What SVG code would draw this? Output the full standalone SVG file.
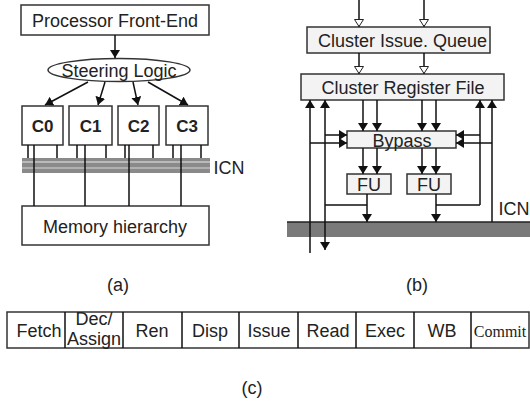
<svg xmlns="http://www.w3.org/2000/svg" width="530" height="405" viewBox="0 0 530 405">
<style>
.t{font-family:"Liberation Sans",Arial,sans-serif;font-size:18px;fill:#222;text-anchor:middle}
.b{font-weight:bold;font-size:17px}
.box{fill:#fff;stroke:#333;stroke-width:1.5}
.gbox{fill:#f3f3f3;stroke:#333;stroke-width:1.5}
.ln{stroke:#111;stroke-width:1.5;fill:none}
</style>
<defs>
<marker id="ah" markerWidth="8" markerHeight="10" refX="8" refY="5" orient="auto" markerUnits="userSpaceOnUse">
<path d="M0,0 L8,5 L0,10 Z" fill="#111"/>
</marker>
<marker id="oh" markerWidth="8" markerHeight="10" refX="8" refY="5" orient="auto" markerUnits="userSpaceOnUse">
<path d="M0.5,0.5 L7.5,5 L0.5,9.5 Z" fill="#fff" stroke="#222" stroke-width="1"/>
</marker>
</defs>

<!-- (a) -->
<g id="front-end"><rect class="box" x="21" y="5" width="188" height="30"/><text class="t" x="115" y="27">Processor Front-End</text></g>
<g id="steering"><ellipse cx="119" cy="70" rx="71" ry="11.5" class="box"/><text class="t" x="119" y="77" font-size="19">Steering Logic</text></g>
<g id="c0"><rect class="box" x="22" y="106" width="41" height="39"/><text class="t b" x="42.5" y="132">C0</text></g>
<g id="c1"><rect class="box" x="69" y="106" width="43" height="39"/><text class="t b" x="90.5" y="132">C1</text></g>
<g id="c2"><rect class="box" x="118" y="106" width="41" height="39"/><text class="t b" x="138.5" y="132">C2</text></g>
<g id="c3"><rect class="box" x="166" y="106" width="42" height="39"/><text class="t b" x="187" y="132">C3</text></g>
<g id="icn-a">
<rect x="22" y="158" width="188" height="15" fill="#8a8a8a"/>
<line x1="22" y1="162" x2="210" y2="162" stroke="#c8c8c8" stroke-width="1.5"/>
<line x1="22" y1="168" x2="210" y2="168" stroke="#bdbdbd" stroke-width="1.5"/>
<text class="t" x="229" y="174">ICN</text>
</g>
<g id="memory"><rect class="box" x="22" y="206" width="187" height="39"/><text class="t" x="115" y="233">Memory hierarchy</text></g>

<!-- (b) -->
<g id="issue-queue"><rect class="gbox" x="307" y="27" width="183" height="26"/><text class="t" x="318" y="47" style="text-anchor:start">Cluster Issue. Queue</text></g>
<g id="reg-file"><rect class="gbox" x="301" y="74" width="203" height="26"/><text class="t" x="403" y="94">Cluster Register File</text></g>
<g id="bypass"><rect class="gbox" x="347" y="131" width="109" height="17"/><text class="t" x="402" y="147">Bypass</text></g>
<g id="fu1"><rect class="gbox" x="347" y="174" width="44" height="20"/><text class="t" x="369" y="191">FU</text></g>
<g id="fu2"><rect class="gbox" x="407" y="174" width="44" height="20"/><text class="t" x="429" y="191">FU</text></g>
<g id="icn-b">
<rect x="287" y="222" width="243" height="15" fill="#7a7a7a"/>
<line x1="287" y1="222" x2="530" y2="222" stroke="#222" stroke-width="1.5"/>
<text class="t" x="514" y="215">ICN</text>
</g>

<g id="connectors">
<!-- (a) -->
<line class="ln" x1="115" y1="35" x2="115" y2="58" marker-end="url(#ah)"/>
<line class="ln" x1="88" y1="82" x2="45" y2="105" marker-end="url(#ah)"/>
<line class="ln" x1="105" y1="82" x2="98" y2="105" marker-end="url(#ah)"/>
<line class="ln" x1="133" y1="82" x2="138" y2="105" marker-end="url(#ah)"/>
<line class="ln" x1="148" y1="82" x2="188" y2="105" marker-end="url(#ah)"/>
<path class="ln" d="M28,145V158M57,145V158M77,145V158M106,145V158M125,145V158M153,145V158M173,145V158M201,145V158"/>
<path class="ln" d="M34,145V206M85,145V206M129,145V206M181,145V206"/>
<!-- (b) -->
<line class="ln" x1="359" y1="0" x2="359" y2="27" marker-end="url(#oh)"/>
<line class="ln" x1="424" y1="0" x2="424" y2="27" marker-end="url(#oh)"/>
<line class="ln" x1="359" y1="53" x2="359" y2="74" marker-end="url(#oh)"/>
<line class="ln" x1="424" y1="53" x2="424" y2="74" marker-end="url(#oh)"/>
<line class="ln" x1="363" y1="100" x2="363" y2="131" marker-end="url(#ah)"/>
<line class="ln" x1="377" y1="100" x2="377" y2="131" marker-end="url(#ah)"/>
<line class="ln" x1="422" y1="100" x2="422" y2="131" marker-end="url(#ah)"/>
<line class="ln" x1="436" y1="100" x2="436" y2="131" marker-end="url(#ah)"/>
<line class="ln" x1="363" y1="148" x2="363" y2="174" marker-end="url(#ah)"/>
<line class="ln" x1="377" y1="148" x2="377" y2="174" marker-end="url(#ah)"/>
<line class="ln" x1="422" y1="148" x2="422" y2="174" marker-end="url(#ah)"/>
<line class="ln" x1="436" y1="148" x2="436" y2="174" marker-end="url(#ah)"/>
<line class="ln" x1="310" y1="253" x2="310" y2="100" marker-end="url(#ah)"/>
<line class="ln" x1="325" y1="205" x2="325" y2="100" marker-end="url(#ah)"/>
<line class="ln" x1="480" y1="205" x2="480" y2="100" marker-end="url(#ah)"/>
<line class="ln" x1="492" y1="222" x2="492" y2="100" marker-end="url(#ah)"/>
<line class="ln" x1="325" y1="135" x2="347" y2="135" marker-end="url(#ah)"/>
<line class="ln" x1="310" y1="143" x2="347" y2="143" marker-end="url(#ah)"/>
<line class="ln" x1="480" y1="135" x2="456" y2="135" marker-end="url(#ah)"/>
<line class="ln" x1="492" y1="143" x2="456" y2="143" marker-end="url(#ah)"/>
<line class="ln" x1="367" y1="194" x2="367" y2="222" marker-end="url(#ah)"/>
<line class="ln" x1="436" y1="194" x2="436" y2="222" marker-end="url(#ah)"/>
<path class="ln" d="M367,205H325M436,205H480"/>
<line class="ln" x1="325" y1="205" x2="325" y2="250" marker-end="url(#ah)"/>
</g>

<!-- (c) -->
<g id="pipeline">
<rect x="7" y="312" width="522" height="36" fill="#fff" stroke="#333" stroke-width="1.5"/>
<path class="ln" stroke="#333" d="M65,312V348M123,312V348M182,312V348M239,312V348M298,312V348M356,312V348M414,312V348M471,312V348"/>
<text class="t" x="39" y="337">Fetch</text>
<text class="t" x="94" y="325" font-size="14">Dec/</text>
<text class="t" x="94" y="345" font-size="14">Assign</text>
<text class="t" x="152" y="337">Ren</text>
<text class="t" x="210" y="337">Disp</text>
<text class="t" x="269" y="337">Issue</text>
<text class="t" x="328" y="337">Read</text>
<text class="t" x="385" y="337">Exec</text>
<text class="t" x="442" y="337">WB</text>
<text class="t" x="500" y="337" style="font-family:'Liberation Serif','Times New Roman',serif;font-size:16px">Commit</text>
</g>

<g id="captions">
<text class="t" x="118" y="291">(a)</text>
<text class="t" x="417" y="291">(b)</text>
<text class="t" x="252" y="394">(c)</text>
</g>
</svg>
